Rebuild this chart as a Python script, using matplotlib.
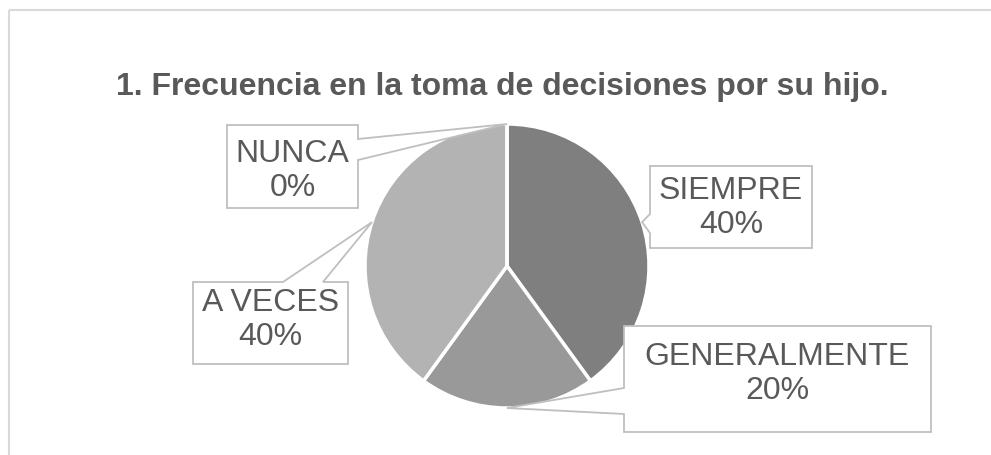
import matplotlib
matplotlib.use("Agg")
import matplotlib.pyplot as plt
from matplotlib.patches import Polygon, Rectangle
import numpy as np

# ---- data ----
categories = ["SIEMPRE", "GENERALMENTE", "A VECES", "NUNCA"]
values = [40, 20, 40, 0]
pct_labels = ["40%", "20%", "40%", "0%"]
colors = ["#7f7f7f", "#999999", "#b3b3b3", "#cccccc"]
title = "1. Frecuencia en la toma de decisiones por su hijo."

plt.rcParams['font.family'] = ['Liberation Sans', 'DejaVu Sans']

W, H = 991, 455
fig = plt.figure(figsize=(W / 100, H / 100), dpi=100)
ax = fig.add_axes([0, 0, 1, 1])

cx, cy, r = 507, 266, 142
# y axis is inverted (pixel-like coords): startangle -90 = visual top, counterclock -> visual clockwise
wedges, _ = ax.pie(values, center=(cx, cy), radius=r, startangle=-90, counterclock=True,
                   colors=colors, wedgeprops=dict(edgecolor='white', linewidth=2.5), frame=True)
ax.set_xlim(0, W)
ax.set_ylim(H, 0)
ax.set_aspect('equal')
ax.axis('off')

# outer chart border
ax.add_patch(Rectangle((9, 10), 1000, 470, fill=False, edgecolor="#d9d9d9", lw=1.5, zorder=0))

ax.text(502, 95, title, ha='center', va='baseline', fontsize=23, fontweight='bold', color="#595959")

# callout layout: box (x0, y0, x1, y1), pointer side, pointer base (a, b), first text baseline
callouts = {
    "SIEMPRE": ((650, 166, 812, 248), 'left', (214, 233), 199),
    "GENERALMENTE": ((624, 326, 931, 432), 'left', (388, 414), 365),
    "A VECES": ((193, 282, 348, 364), 'top', (283, 323), 311),
    "NUNCA": ((227, 125, 358, 208), 'right', (139, 160), 162),
}
line_gap = 34


def callout_poly(box, side, base, tip):
    x0, y0, x1, y1 = box
    a, b = base
    pts = [(x0, y0)]
    if side == 'top':
        pts += [(a, y0), tip, (b, y0)]
    pts.append((x1, y0))
    if side == 'right':
        pts += [(x1, a), tip, (x1, b)]
    pts.append((x1, y1))
    if side == 'bottom':
        pts += [(b, y1), tip, (a, y1)]
    pts.append((x0, y1))
    if side == 'left':
        pts += [(x0, b), tip, (x0, a)]
    return pts


for w, cat, pct in zip(wedges, categories, pct_labels):
    mid = np.deg2rad((w.theta1 + w.theta2) / 2)
    tip = (cx + r * np.cos(mid), cy + r * np.sin(mid))
    box, side, base, bl = callouts[cat]
    poly = Polygon(callout_poly(box, side, base, tip), closed=True, facecolor='white',
                   edgecolor='#bfbfbf', lw=1.3, zorder=5)
    ax.add_patch(poly)
    x0, y0, x1, y1 = box
    xc = (x0 + x1) / 2
    ax.text(xc, bl, cat, ha='center', va='baseline', fontsize=23, color='#595959', zorder=6)
    ax.text(xc, bl + line_gap, pct, ha='center', va='baseline', fontsize=23, color='#595959', zorder=6)

fig.savefig("out.png", dpi=100)
